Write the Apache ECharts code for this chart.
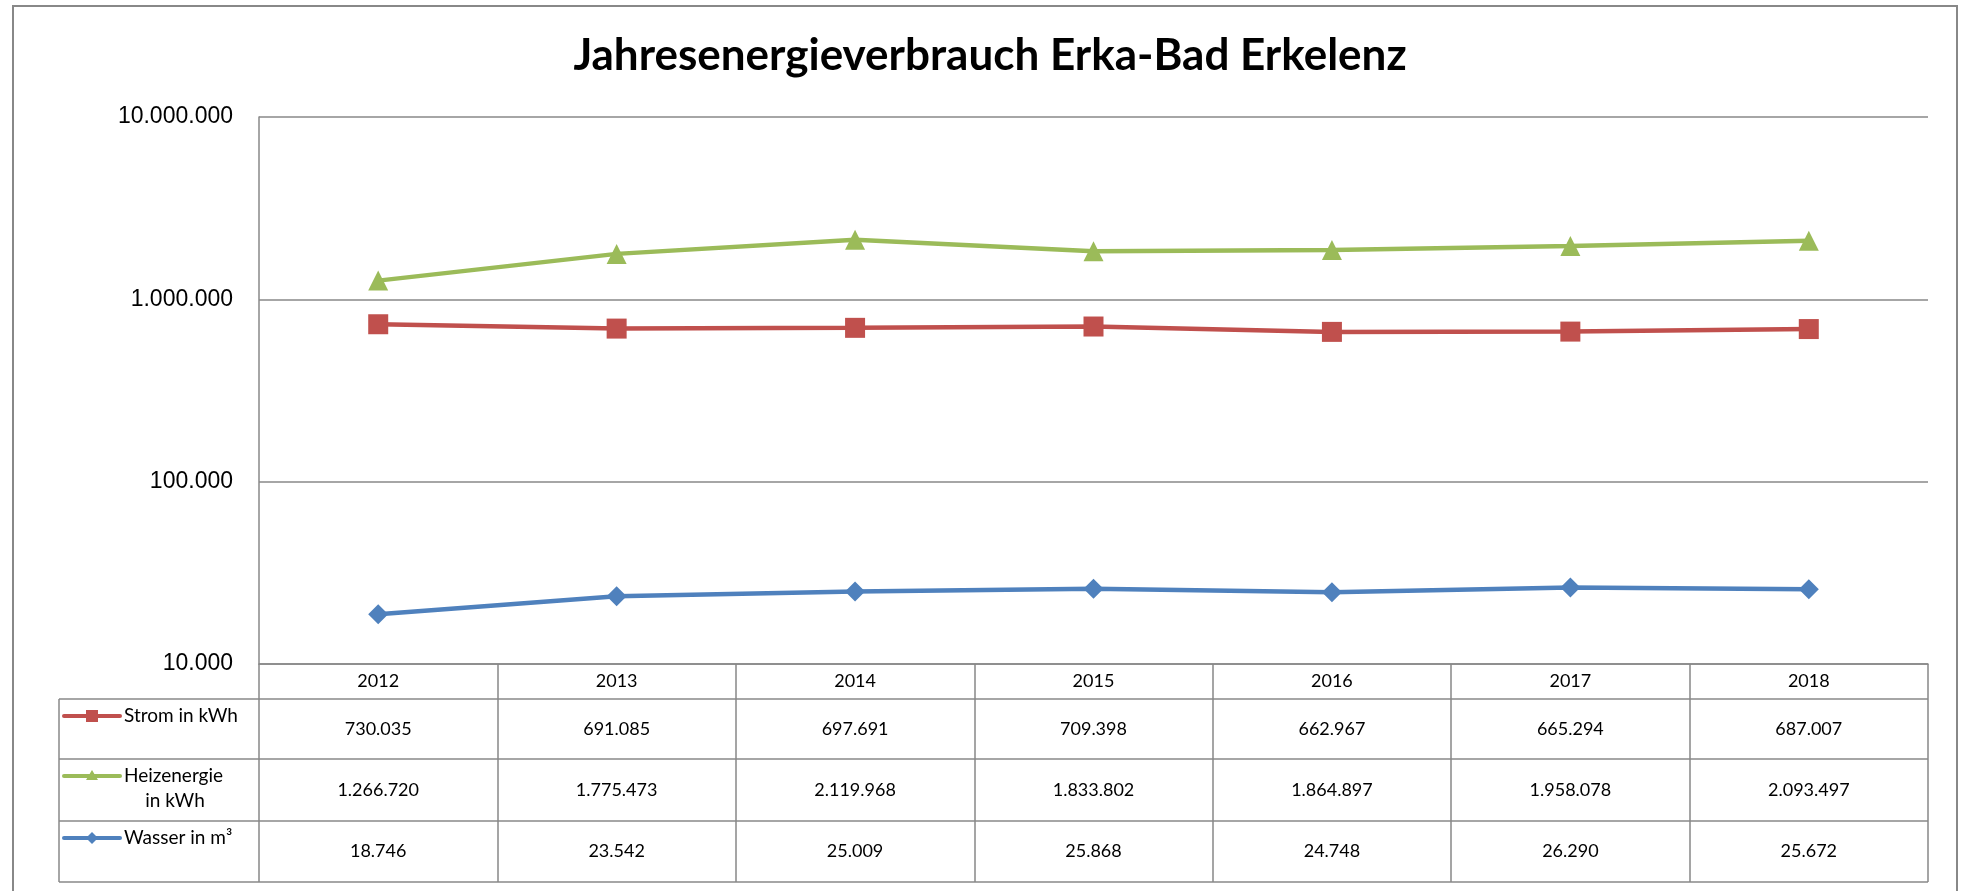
<!DOCTYPE html>
<html>
<head>
<meta charset="utf-8">
<script src="https://cdn.jsdelivr.net/npm/echarts@6/dist/echarts.min.js"></script>
<style>
html, body { margin: 0; padding: 0; background: #fff; }
#main { width: 1964px; height: 891px; }
</style>
</head>
<body>
<div id="main"></div>
<script>
var years = ['2012', '2013', '2014', '2015', '2016', '2017', '2018'];
var strom = [730035, 691085, 697691, 709398, 662967, 665294, 687007];
var heizung = [1266720, 1775473, 2119968, 1833802, 1864897, 1958078, 2093497];
var wasser = [18746, 23542, 25009, 25868, 24748, 26290, 25672];
var yTicks = [10000, 100000, 1000000, 10000000];

var red = '#c0504d', green = '#9bbb59', blue = '#4f81bd';
var gridGrey = '#888888';

// German number format: 1.266.720
function fmt(v) {
	return String(v).replace(/\B(?=(\d{3})+(?!\d))/g, '.');
}

var chart = echarts.init(document.getElementById('main'));

var option = {
	animation : false,
	backgroundColor : '#fff',
	title : {
		text : 'Jahresenergieverbrauch Erka-Bad Erkelenz',
		left : 985,
		textAlign : 'center',
		top : 29,
		textStyle : {
			fontFamily : 'Lato',
			fontWeight : 'bold',
			fontSize : 44,
			color : '#000'
		}
	},
	grid : {
		left : 259,
		right : 36,
		top : 117,
		bottom : 227
	},
	xAxis : {
		type : 'category',
		data : years,
		boundaryGap : true,
		axisLine : { show : true, lineStyle : { color : gridGrey, width : 1.5 } },
		// ticks double as the vertical lines of the data table
		axisTick : { show : true, length : 218, lineStyle : { color : gridGrey, width : 1.5 } },
		axisLabel : {
			margin : 17,
			verticalAlign : 'middle',
			fontFamily : 'Lato',
			fontSize : 18,
			color : '#000'
		},
		splitLine : { show : false }
	},
	yAxis : {
		type : 'log',
		logBase : 10,
		min : yTicks[0],
		max : yTicks[yTicks.length - 1],
		axisLine : { show : true, lineStyle : { color : gridGrey, width : 1.5 } },
		axisTick : { show : false },
		axisLabel : {
			margin : 26,
			fontFamily : 'Liberation Sans',
			fontSize : 23,
			color : '#000',
			formatter : function(v) { return fmt(Math.round(v)); }
		},
		splitLine : { show : true, lineStyle : { color : gridGrey, width : 1.5 } }
	},
	series : [ {
		name : 'Strom in kWh',
		type : 'line',
		data : strom,
		symbol : 'rect',
		symbolSize : 20,
		lineStyle : { color : red, width : 4.5 },
		itemStyle : { color : red }
	}, {
		name : 'Heizenergie in kWh',
		type : 'line',
		data : heizung,
		symbol : 'triangle',
		symbolSize : 20,
		lineStyle : { color : green, width : 4.5 },
		itemStyle : { color : green }
	}, {
		name : 'Wasser in m³',
		type : 'line',
		data : wasser,
		symbol : 'diamond',
		symbolSize : 20,
		lineStyle : { color : blue, width : 4.5 },
		itemStyle : { color : blue }
	} ]
};

chart.setOption(option);

// data table under the plot, placed from the axis scales
function buildTable() {
	var c0 = chart.convertToPixel({ xAxisIndex : 0 }, 0);
	var c1 = chart.convertToPixel({ xAxisIndex : 0 }, 1);
	var band = c1 - c0;
	var left = c0 - band / 2;
	var right = left + band * years.length;
	var yBase = chart.convertToPixel({ yAxisIndex : 0 }, yTicks[0]);
	var legLeft = left - 200;
	var rowH = [ 35, 60, 62, 61 ];
	var rowTop = [ yBase + rowH[0] ];
	rowTop.push(rowTop[0] + rowH[1]);
	rowTop.push(rowTop[1] + rowH[2]);
	var tableBottom = rowTop[2] + rowH[3];

	var els = [];
	var lineStyle = { stroke : gridGrey, lineWidth : 1.5 };
	// outer chart frame
	els.push({
		type : 'rect',
		shape : { x : 13, y : 6, width : 1944, height : 920 },
		style : { fill : null, stroke : '#888', lineWidth : 2 },
		silent : true
	});
	var hl = rowTop.concat([ tableBottom ]);
	hl.forEach(function(y) {
		els.push({ type : 'line', shape : { x1 : legLeft, y1 : y, x2 : right, y2 : y }, style : lineStyle });
	});
	els.push({ type : 'line', shape : { x1 : legLeft, y1 : rowTop[0], x2 : legLeft, y2 : tableBottom }, style : lineStyle });

	var rows = [
		{ data : strom, color : red, sym : 'rect', label : [ 'Strom in kWh' ] },
		{ data : heizung, color : green, sym : 'triangle', label : [ 'Heizenergie', 'in kWh' ] },
		{ data : wasser, color : blue, sym : 'diamond', label : [ 'Wasser in m³' ] }
	];
	var txt = { fontFamily : 'Lato', fontSize : 18, fill : '#000' };
	var legTxt = { fontFamily : 'Lato', fontSize : 19, fill : '#000' };
	rows.forEach(function(r, ri) {
		var top = rowTop[ri];
		var mid = top + rowH[ri + 1] / 2;
		var ky = top + 17;
		els.push({ type : 'line', shape : { x1 : legLeft + 5, y1 : ky, x2 : legLeft + 61, y2 : ky },
			style : { stroke : r.color, lineWidth : 4, lineCap : 'round' } });
		var mx = legLeft + 33;
		if (r.sym == 'rect') {
			els.push({ type : 'rect', shape : { x : mx - 6, y : ky - 6, width : 12, height : 12 }, style : { fill : r.color } });
		} else if (r.sym == 'triangle') {
			els.push({ type : 'polygon', shape : { points : [ [ mx, ky - 6 ], [ mx + 6, ky + 4 ], [ mx - 6, ky + 4 ] ] }, style : { fill : r.color } });
		} else {
			els.push({ type : 'polygon', shape : { points : [ [ mx, ky - 6 ], [ mx + 6, ky ], [ mx, ky + 6 ], [ mx - 6, ky ] ] }, style : { fill : r.color } });
		}
		els.push({ type : 'text', x : legLeft + 65, y : ky,
			style : echarts.util.extend({ text : r.label[0], align : 'left', verticalAlign : 'middle' }, legTxt) });
		if (r.label[1]) {
			els.push({ type : 'text', x : legLeft + 116, y : ky + 25,
				style : echarts.util.extend({ text : r.label[1], align : 'center', verticalAlign : 'middle' }, legTxt) });
		}
		r.data.forEach(function(v, i) {
			els.push({ type : 'text', x : c0 + band * i, y : mid,
				style : echarts.util.extend({ text : fmt(v), align : 'center', verticalAlign : 'middle' }, txt) });
		});
	});
	chart.setOption({ graphic : { elements : els } });
}

buildTable();
</script>
</body>
</html>
